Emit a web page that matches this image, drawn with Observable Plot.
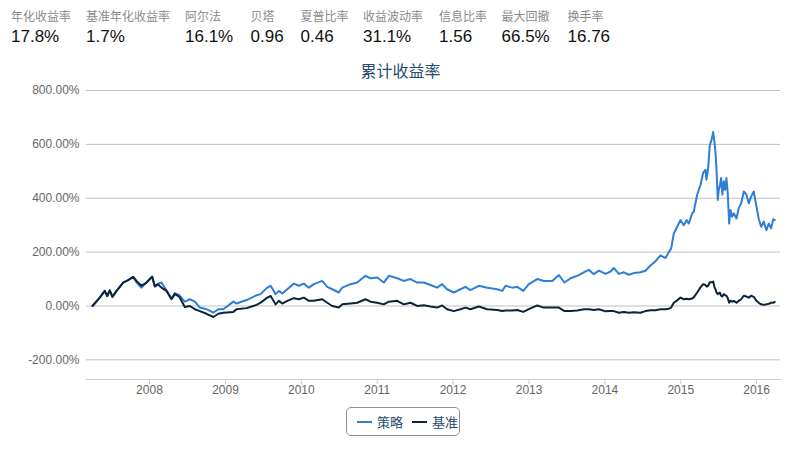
<!DOCTYPE html>
<html>
<head>
<meta charset="utf-8">
<script src="https://cdn.jsdelivr.net/npm/d3@7"></script>
<script src="https://cdn.jsdelivr.net/npm/@observablehq/plot@0.6"></script>
<style>
  body { margin: 0; background: #fff; }
  #wrap { position: relative; width: 801px; height: 450px; overflow: hidden; font-family: "Liberation Sans", Arial, "Noto Sans CJK SC", sans-serif; }
  .stat { position: absolute; top: 0; white-space: nowrap; }
  .stat .lab { position: absolute; top: 8px; left: 0; font-size: 12px; color: #8a8a8a; font-family: "Noto Sans CJK SC", sans-serif; line-height: 16px; }
  .stat .val { position: absolute; top: 27px; left: 0; font-size: 17px; color: #111; font-family: "Liberation Sans", Arial, sans-serif; line-height: 20px; }
  #title { position: absolute; top: 59px; left: 0; width: 801px; text-align: center; font-size: 16px; color: #274b6d; font-family: "Noto Sans CJK SC", sans-serif; line-height: 22px; }
  #plot { position: absolute; top: 70px; left: 0; }
  #legend { position: absolute; top: 407px; left: 346px; width: 114px; height: 29px; border: 1px solid #909090; border-radius: 5px; box-sizing: border-box; display: flex; align-items: center; padding-left: 10px; font-family: "Noto Sans CJK SC", sans-serif; font-size: 13px; color: #274b6d; white-space: nowrap; }
  #legend .sw { display: inline-block; width: 15px; height: 2px; margin-right: 5px; flex-shrink: 0; }
  #legend .item { display: flex; align-items: center; margin-right: 9px; flex-shrink: 0; white-space: nowrap; }
</style>
</head>
<body>
<div id="wrap">
  <div id="stats"></div>
  <div id="title">累计收益率</div>
  <div id="plot"></div>
  <div id="legend"></div>
</div>
<script>
// ---- data ----
const statLabels = ["年化收益率", "基准年化收益率", "阿尔法", "贝塔", "夏普比率", "收益波动率", "信息比率", "最大回撤", "换手率"];
const statValues = ["17.8%", "1.7%", "16.1%", "0.96", "0.46", "31.1%", "1.56", "66.5%", "16.76"];
const seriesNames = ["策略", "基准"];
const yTickValues = [-200, 0, 200, 400, 600, 800];
const xTickYears = [2008, 2009, 2010, 2011, 2012, 2013, 2014, 2015, 2016];

// dates as decimal years
const years = [
  2007.249, 2007.345, 2007.411, 2007.443, 2007.477, 2007.512, 2007.566, 2007.601, 2007.653, 2007.719,
  2007.785, 2007.829, 2007.894, 2007.961, 2008.035, 2008.070, 2008.115, 2008.158, 2008.224, 2008.290,
  2008.334, 2008.391, 2008.465, 2008.531, 2008.597, 2008.662, 2008.751, 2008.840, 2008.905, 2008.971,
  2009.103, 2009.146, 2009.278, 2009.410, 2009.463, 2009.550, 2009.595, 2009.660, 2009.704, 2009.749,
  2009.814, 2009.901, 2009.968, 2010.033, 2010.099, 2010.165, 2010.275, 2010.342, 2010.407, 2010.494,
  2010.539, 2010.648, 2010.737, 2010.845, 2010.912, 2011.000, 2011.087, 2011.153, 2011.264, 2011.350,
  2011.439, 2011.527, 2011.615, 2011.702, 2011.791, 2011.856, 2011.922, 2012.010, 2012.097, 2012.164,
  2012.229, 2012.339, 2012.449, 2012.581, 2012.647, 2012.691, 2012.779, 2012.844, 2012.924, 2012.997,
  2013.108, 2013.195, 2013.306, 2013.392, 2013.468, 2013.547, 2013.635, 2013.722, 2013.788, 2013.854,
  2013.920, 2014.008, 2014.074, 2014.117, 2014.184, 2014.249, 2014.315, 2014.381, 2014.469, 2014.535,
  2014.601, 2014.666, 2014.733, 2014.799, 2014.842, 2014.873, 2014.908, 2014.953, 2014.996, 2015.039,
  2015.076, 2015.106, 2015.150, 2015.171, 2015.216, 2015.260, 2015.295, 2015.326, 2015.339, 2015.361,
  2015.382, 2015.413, 2015.427, 2015.445, 2015.458, 2015.471, 2015.488, 2015.501, 2015.514, 2015.532,
  2015.549, 2015.567, 2015.585, 2015.602, 2015.619, 2015.638, 2015.655, 2015.677, 2015.699, 2015.734,
  2015.764, 2015.796, 2015.831, 2015.866, 2015.896, 2015.927, 2015.962, 2015.998, 2016.027, 2016.059,
  2016.094, 2016.129, 2016.159, 2016.191, 2016.218, 2016.239
];
// cumulative return of the strategy, %
const strategy = [
  0, 31, 56, 37, 58, 34, 56, 68, 87, 96,
  108, 88, 68, 87, 109, 75, 83, 87, 58, 28,
  48, 40, 16, 25, 16, -6, -12, -25, -12, -12,
  16, 9, 22, 40, 44, 68, 75, 44, 56, 46,
  62, 83, 75, 83, 68, 81, 93, 71, 62, 50,
  68, 81, 87, 112, 103, 106, 87, 112, 103, 93,
  100, 87, 87, 78, 68, 81, 62, 50, 62, 71,
  59, 75, 68, 62, 56, 75, 68, 71, 56, 81,
  100, 93, 93, 115, 87, 103, 112, 125, 134, 118,
  131, 119, 128, 141, 119, 125, 116, 122, 125, 131,
  150, 166, 188, 178, 200, 213, 269, 294, 319, 300,
  319, 306, 344, 350, 413, 450, 494, 506, 469, 512,
  594, 625, 646, 606, 569, 506, 394, 431, 444, 475,
  413, 463, 431, 475, 419, 306, 356, 331, 344, 325,
  363, 381, 425, 413, 381, 406, 425, 369, 325, 294,
  313, 281, 306, 288, 322, 319
];
// cumulative return of the benchmark, %
const benchmark = [
  0, 31, 56, 37, 58, 34, 56, 68, 87, 96,
  108, 93, 75, 87, 109, 72, 80, 68, 56, 25,
  44, 35, -4, 0, -12, -19, -29, -41, -29, -25,
  -22, -12, -8, 4, 12, 31, 37, 6, 19, 9,
  19, 29, 25, 31, 19, 19, 25, 12, 0, -6,
  6, 9, 12, 25, 16, 12, 6, 16, 19, 6,
  12, 0, 3, -2, -6, 2, -12, -19, -12, -6,
  -12, -2, -12, -15, -19, -17, -17, -15, -22, -12,
  2, -6, -6, -6, -19, -19, -17, -12, -12, -15,
  -12, -20, -19, -19, -25, -22, -25, -23, -25, -19,
  -16, -16, -12, -12, -10, -6, 12, 21, 31, 25,
  27, 25, 28, 32, 50, 69, 81, 78, 72, 75,
  88, 88, 91, 69, 62, 50, 44, 48, 50, 38,
  35, 44, 40, 38, 30, 12, 19, 16, 19, 12,
  19, 25, 38, 35, 31, 38, 34, 19, 12, 6,
  4, 6, 8, 12, 12, 15
];

// ---- build ----
function decYear(t) {
  const y = Math.floor(t);
  const a = Date.UTC(y, 0, 1), b = Date.UTC(y + 1, 0, 1);
  return new Date(a + (t - y) * (b - a));
}
const colors = ["#2f7ed8", "#0d233a"];
const rows = [];
years.forEach((t, i) => {
  rows.push({date: decYear(t), value: strategy[i], series: seriesNames[0]});
});
years.forEach((t, i) => {
  rows.push({date: decYear(t), value: benchmark[i], series: seriesNames[1]});
});

// stats header
const statLeft = [11, 86, 185, 250.5, 300.5, 363, 439, 501.5, 567.5];
const statsEl = document.getElementById("stats");
statLabels.forEach((l, i) => {
  const d = document.createElement("div");
  d.className = "stat";
  d.style.left = statLeft[i] + "px";
  d.innerHTML = `<div class="lab">${l}</div><div class="val">${statValues[i]}</div>`;
  statsEl.appendChild(d);
});

const chart = Plot.plot({
  width: 801,
  height: 329,
  marginLeft: 86,
  marginRight: 21,
  marginTop: 20,
  marginBottom: 20,
  style: {fontFamily: "'Liberation Sans', Arial, sans-serif", fontSize: "12px", color: "#666", background: "transparent"},
  x: {type: "utc", domain: [decYear(2007.170), decYear(2016.314)]},
  y: {domain: [-273, 800]},
  marks: [
    Plot.gridY(yTickValues, {stroke: "#C0C0C0", strokeOpacity: 1, strokeWidth: 1}),
    Plot.frame({anchor: "bottom", stroke: "#C0D0E0"}),
    Plot.axisX(xTickYears.map(y => new Date(Date.UTC(y, 0, 1))), {
      tickSize: 5, tickPadding: 1, stroke: "#C0D0E0", fill: "#666",
      tickFormat: d => String(d.getUTCFullYear()), label: null, fontSize: 12
    }),
    Plot.axisY(yTickValues, {
      tickSize: 0, tickPadding: 7, fill: "#666",
      tickFormat: d => d.toFixed(2) + "%", label: null, fontSize: 12
    }),
    Plot.line(rows, {x: "date", y: "value", z: "series", stroke: "series", strokeWidth: 2, strokeLinejoin: "round"})
  ],
  color: {domain: seriesNames, range: colors}
});
document.getElementById("plot").appendChild(chart);

// legend
const leg = document.getElementById("legend");
seriesNames.forEach((n, i) => {
  const it = document.createElement("div");
  it.className = "item";
  it.innerHTML = `<span class="sw" style="background:${colors[i]}"></span><span>${n}</span>`;
  leg.appendChild(it);
});
</script>
</body>
</html>
